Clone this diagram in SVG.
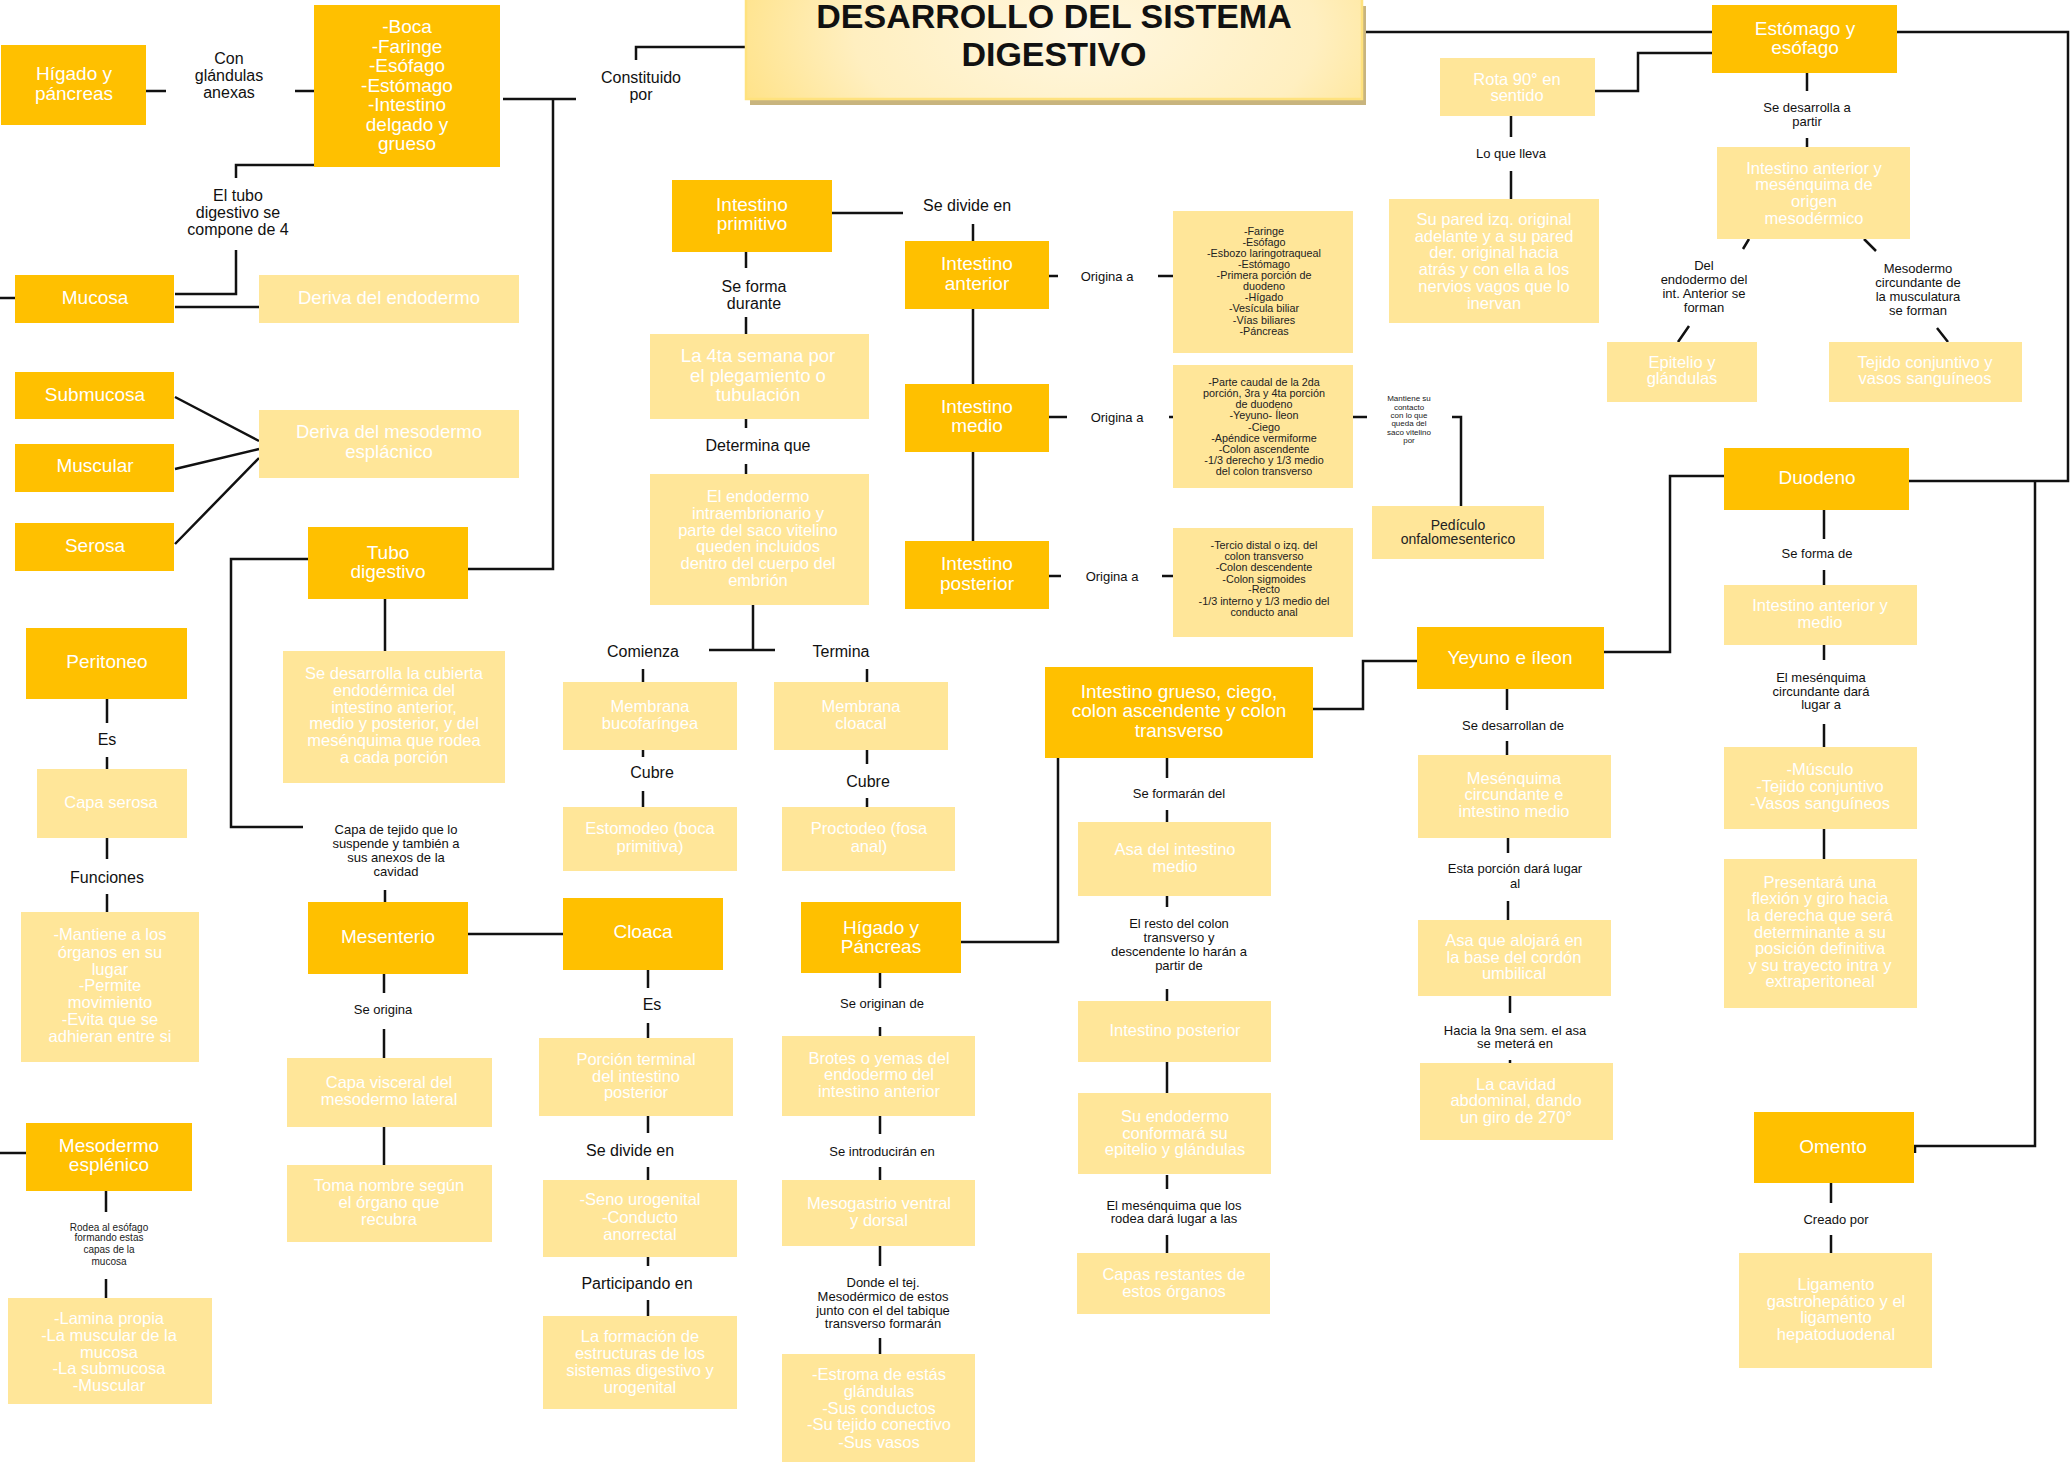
<svg xmlns="http://www.w3.org/2000/svg" width="2070" height="1470" viewBox="0 0 2070 1470">
<style>
text{font-family:"Liberation Sans",Arial,sans-serif;text-anchor:middle}
.d{fill:#FFC000}
.l{fill:#FFE699}
.tw{fill:#fff;font-size:19px}
.tl{fill:#fff;font-size:16.5px}
.tb{fill:#fff;font-size:18.5px}
.lb{fill:#111;font-size:16px}
.ls{fill:#111;font-size:13px}
.tx{fill:#222;font-size:10.8px}
.t8{fill:#222;font-size:8px}
.t10{fill:#222;font-size:10px}
.t14{fill:#222;font-size:14px}
.c path{fill:none;stroke:#111;stroke-width:2.5}
</style>
<defs>
<radialGradient id="gTitle" cx="0.55" cy="0.45" r="0.75" gradientTransform="translate(0.5 0.5) scale(1 3.2) translate(-0.5 -0.5)">
<stop offset="0" stop-color="#FFF7E0"/>
<stop offset="0.5" stop-color="#FFEFC0"/>
<stop offset="1" stop-color="#FFD95E"/>
</radialGradient>
</defs>
<rect width="2070" height="1470" fill="#fff"/>

<!-- connectors -->
<g id="connectors" class="c">
<path d="M146 91H166M295 91H314"/>
<path d="M503 99H576M553 99V569H468"/>
<path d="M636 60V47H745"/>
<path d="M314 165H236V178M236 250V294H175"/>
<path d="M0 298H15M175 307H259"/>
<path d="M175 397L259 441M175 469L259 449M175 544L259 458"/>
<path d="M308 559H231V827H303M385 890V902M385 599V651"/>
<path d="M107 699V723M107 757V769M107 838V859M107 894V912"/>
<path d="M468 934H563"/>
<path d="M384 974V993M384 1029V1058M384 1127V1165"/>
<path d="M648 970V988M648 1023V1038M648 1116V1133M648 1167V1180M648 1257V1266M648 1300V1316"/>
<path d="M0 1153H26M106 1191V1212M106 1279V1298"/>
<path d="M832 213H903M973 224V541"/>
<path d="M746 252V268M746 317V334M746 419V428M746 464V474"/>
<path d="M753 605V650M709 650H775"/>
<path d="M643 669V682M643 750V757M643 791V807"/>
<path d="M867 669V682M867 750V764M867 798V807"/>
<path d="M1049 276H1058M1158 276H1173M1049 417H1067M1169 417H1173M1049 576H1061M1162 576H1173"/>
<path d="M1353 417H1367M1452 417H1461V506"/>
<path d="M1313 709H1363V661H1417"/>
<path d="M1058 758V942H961"/>
<path d="M1167 758V778M1167 810V822M1167 896V907M1167 989V1001M1167 1062V1093M1167 1175V1189M1167 1235V1253"/>
<path d="M880 973V988M880 1027V1036M880 1116V1134M880 1167V1180M880 1246V1266M880 1338V1354"/>
<path d="M1363 32H1712M1712 53H1638V91H1595"/>
<path d="M1511 116V137M1511 171V199"/>
<path d="M1807 73V91M1807 138V147"/>
<path d="M1749 239L1743 249M1864 239L1876 251M1689 326L1678 342M1937 328L1948 342"/>
<path d="M1897 32H2068V481H1909M2035 481V1146H1914M1915 1146V1153"/>
<path d="M1724 476H1670V652H1604"/>
<path d="M1507 689V710M1507 741V755M1508 838V853M1508 901V920M1510 996V1013M1510 1060V1063"/>
<path d="M1824 510V539M1824 570V585M1824 645V660M1824 724V747M1824 829V859"/>
<path d="M1831 1183V1203M1831 1235V1253"/>
</g>

<!-- connector labels -->
<g id="edge-labels">
<text class="lb"><tspan x="229" y="63.6">Con</tspan><tspan x="229" y="80.6">glándulas</tspan><tspan x="229" y="97.6">anexas</tspan></text>
<text class="lb"><tspan x="641" y="82.6">Constituido</tspan><tspan x="641" y="99.6">por</tspan></text>
<text class="lb"><tspan x="238" y="200.6">El tubo</tspan><tspan x="238" y="217.6">digestivo se</tspan><tspan x="238" y="234.6">compone de 4</tspan></text>
<text class="lb" x="967" y="210.6">Se divide en</text>
<text class="lb"><tspan x="754" y="291.6">Se forma</tspan><tspan x="754" y="308.6">durante</tspan></text>
<text class="lb" x="758" y="450.6">Determina que</text>
<text class="lb" x="643" y="656.6">Comienza</text>
<text class="lb" x="841" y="656.6">Termina</text>
<text class="lb" x="652" y="777.6">Cubre</text>
<text class="lb" x="868" y="786.6">Cubre</text>
<text class="lb" x="107" y="744.6">Es</text>
<text class="lb" x="107" y="882.6">Funciones</text>
<text class="lb" x="652" y="1009.6">Es</text>
<text class="lb" x="630" y="1155.6">Se divide en</text>
<text class="lb" x="637" y="1288.6">Participando en</text>
<text class="ls" x="1107" y="280.6">Origina a</text>
<text class="ls" x="1117" y="421.6">Origina a</text>
<text class="ls" x="1112" y="580.6">Origina a</text>
<text class="t8"><tspan x="1409" y="400.8">Mantiene su</tspan><tspan x="1409" y="409.8">contacto</tspan><tspan x="1409" y="417.8">con lo que</tspan><tspan x="1409" y="425.8">queda del</tspan><tspan x="1409" y="434.8">saco vitelino</tspan><tspan x="1409" y="442.8">por</tspan></text>
<text class="ls"><tspan x="396" y="833.6">Capa de tejido que lo</tspan><tspan x="396" y="847.6">suspende y también a</tspan><tspan x="396" y="861.6">sus anexos de la</tspan><tspan x="396" y="875.6">cavidad</tspan></text>
<text class="ls" x="383" y="1013.6">Se origina</text>
<text class="t10"><tspan x="109" y="1230.5">Rodea al esófago</tspan><tspan x="109" y="1240.5">formando estas</tspan><tspan x="109" y="1252.5">capas de la</tspan><tspan x="109" y="1264.5">mucosa</tspan></text>
<text class="ls" x="882" y="1007.6">Se originan de</text>
<text class="ls" x="882" y="1155.6">Se introducirán en</text>
<text class="ls"><tspan x="883" y="1286.6">Donde el tej.</tspan><tspan x="883" y="1300.6">Mesodérmico de estos</tspan><tspan x="883" y="1314.6">junto con el del tabique</tspan><tspan x="883" y="1327.6">transverso formarán</tspan></text>
<text class="ls" x="1179" y="797.6">Se formarán del</text>
<text class="ls"><tspan x="1179" y="927.6">El resto del colon</tspan><tspan x="1179" y="941.6">transverso y</tspan><tspan x="1179" y="955.6">descendente lo harán a</tspan><tspan x="1179" y="969.6">partir de</tspan></text>
<text class="ls"><tspan x="1174" y="1209.6">El mesénquima que los</tspan><tspan x="1174" y="1222.6">rodea dará lugar a las</tspan></text>
<text class="ls" x="1511" y="157.6">Lo que lleva</text>
<text class="ls"><tspan x="1807" y="111.6">Se desarrolla a</tspan><tspan x="1807" y="125.6">partir</tspan></text>
<text class="ls"><tspan x="1704" y="269.6">Del</tspan><tspan x="1704" y="283.6">endodermo del</tspan><tspan x="1704" y="297.6">int. Anterior se</tspan><tspan x="1704" y="311.6">forman</tspan></text>
<text class="ls"><tspan x="1918" y="272.6">Mesodermo</tspan><tspan x="1918" y="286.6">circundante de</tspan><tspan x="1918" y="300.6">la musculatura</tspan><tspan x="1918" y="314.6">se forman</tspan></text>
<text class="ls" x="1817" y="557.6">Se forma de</text>
<text class="ls"><tspan x="1821" y="681.6">El mesénquima</tspan><tspan x="1821" y="695.6">circundante dará</tspan><tspan x="1821" y="708.6">lugar a</tspan></text>
<text class="ls" x="1513" y="729.6">Se desarrollan de</text>
<text class="ls"><tspan x="1515" y="872.6">Esta porción dará lugar</tspan><tspan x="1515" y="887.6">al</tspan></text>
<text class="ls"><tspan x="1515" y="1034.6">Hacia la 9na sem. el asa</tspan><tspan x="1515" y="1047.6">se meterá en</tspan></text>
<text class="ls" x="1836" y="1223.6">Creado por</text>
</g>

<!-- title -->
<g id="n-titulo">
<rect x="750" y="6" width="616" height="99" fill="#C8B47E"/>
<rect x="746" y="-2" width="616" height="101" fill="url(#gTitle)" stroke="#FFE27E" stroke-width="2.5"/>
<text x="1054" y="27.5" font-weight="bold" font-size="34" fill="#111">DESARROLLO DEL SISTEMA</text>
<text x="1054" y="66" font-weight="bold" font-size="34" fill="#111">DIGESTIVO</text>
</g>

<!-- left column -->
<g id="n-higado-pancreas"><rect class="d" x="1" y="45" width="145" height="80"/>
<text class="tw"><tspan x="74" y="79.7">Hígado y</tspan><tspan x="74" y="99.7">páncreas</tspan></text></g>
<g id="n-organos"><rect class="d" x="314" y="5" width="186" height="162"/>
<text class="tw"><tspan x="407" y="32.7">-Boca</tspan><tspan x="407" y="52.7">-Faringe</tspan><tspan x="407" y="71.7">-Esófago</tspan><tspan x="407" y="91.7">-Estómago</tspan><tspan x="407" y="110.7">-Intestino</tspan><tspan x="407" y="130.7">delgado y</tspan><tspan x="407" y="149.7">grueso</tspan></text></g>
<g id="n-mucosa"><rect class="d" x="15" y="275" width="159" height="48"/>
<text class="tw" x="95" y="303.7">Mucosa</text></g>
<g id="n-deriva-endodermo"><rect class="l" x="259" y="275" width="260" height="48"/>
<text class="tb" x="389" y="303.5">Deriva del endodermo</text></g>
<g id="n-submucosa"><rect class="d" x="15" y="372" width="159" height="47"/>
<text class="tw" x="95" y="400.7">Submucosa</text></g>
<g id="n-muscular"><rect class="d" x="15" y="444" width="159" height="48"/>
<text class="tw" x="95" y="471.7">Muscular</text></g>
<g id="n-serosa"><rect class="d" x="15" y="523" width="159" height="48"/>
<text class="tw" x="95" y="551.7">Serosa</text></g>
<g id="n-deriva-mesodermo"><rect class="l" x="259" y="410" width="260" height="68"/>
<text class="tb"><tspan x="389" y="437.5">Deriva del mesodermo</tspan><tspan x="389" y="457.5">esplácnico</tspan></text></g>
<g id="n-tubo"><rect class="d" x="308" y="527" width="160" height="72"/>
<text class="tw"><tspan x="388" y="558.7">Tubo</tspan><tspan x="388" y="577.7">digestivo</tspan></text></g>
<g id="n-cubierta"><rect class="l" x="283" y="651" width="222" height="132"/>
<text class="tl"><tspan x="394" y="678.8">Se desarrolla la cubierta</tspan><tspan x="394" y="695.8">endodérmica del</tspan><tspan x="394" y="712.8">intestino anterior,</tspan><tspan x="394" y="728.8">medio y posterior, y del</tspan><tspan x="394" y="745.8">mesénquima que rodea</tspan><tspan x="394" y="762.8">a cada porción</tspan></text></g>
<g id="n-peritoneo"><rect class="d" x="26" y="628" width="161" height="71"/>
<text class="tw" x="107" y="667.7">Peritoneo</text></g>
<g id="n-capa-serosa"><rect class="l" x="37" y="769" width="150" height="69"/>
<text class="tl" x="111" y="807.8">Capa serosa</text></g>
<g id="n-funciones"><rect class="l" x="21" y="912" width="178" height="150"/>
<text class="tl"><tspan x="110" y="939.8">-Mantiene a los</tspan><tspan x="110" y="957.8">órganos en su</tspan><tspan x="110" y="974.8">lugar</tspan><tspan x="110" y="990.8">-Permite</tspan><tspan x="110" y="1007.8">movimiento</tspan><tspan x="110" y="1024.8">-Evita que se</tspan><tspan x="110" y="1041.8">adhieran entre si</tspan></text></g>
<g id="n-mesenterio"><rect class="d" x="308" y="902" width="160" height="72"/>
<text class="tw" x="388" y="942.7">Mesenterio</text></g>
<g id="n-capa-visceral"><rect class="l" x="287" y="1058" width="205" height="69"/>
<text class="tl"><tspan x="389" y="1087.8">Capa visceral del</tspan><tspan x="389" y="1104.8">mesodermo lateral</tspan></text></g>
<g id="n-toma-nombre"><rect class="l" x="287" y="1165" width="205" height="77"/>
<text class="tl"><tspan x="389" y="1190.8">Toma nombre según</tspan><tspan x="389" y="1207.8">el órgano que</tspan><tspan x="389" y="1224.8">recubra</tspan></text></g>
<g id="n-mesodermo-esplenico"><rect class="d" x="26" y="1123" width="166" height="68"/>
<text class="tw"><tspan x="109" y="1151.7">Mesodermo</tspan><tspan x="109" y="1170.7">esplénico</tspan></text></g>
<g id="n-lamina"><rect class="l" x="8" y="1298" width="204" height="106"/>
<text class="tl"><tspan x="109" y="1323.8">-Lamina propia</tspan><tspan x="109" y="1340.8">-La muscular de la</tspan><tspan x="109" y="1357.8">mucosa</tspan><tspan x="109" y="1373.8">-La submucosa</tspan><tspan x="109" y="1390.8">-Muscular</tspan></text></g>

<!-- centre columns -->
<g id="n-primitivo"><rect class="d" x="672" y="180" width="160" height="72"/>
<text class="tw"><tspan x="752" y="210.7">Intestino</tspan><tspan x="752" y="229.7">primitivo</tspan></text></g>
<g id="n-cuarta-semana"><rect class="l" x="650" y="334" width="219" height="85"/>
<text class="tb"><tspan x="758" y="361.5">La 4ta semana por</tspan><tspan x="758" y="381.5">el plegamiento o</tspan><tspan x="758" y="400.5">tubulación</tspan></text></g>
<g id="n-endodermo-intra"><rect class="l" x="650" y="474" width="219" height="131"/>
<text class="tl"><tspan x="758" y="501.8">El endodermo</tspan><tspan x="758" y="518.8">intraembrionario y</tspan><tspan x="758" y="535.8">parte del saco vitelino</tspan><tspan x="758" y="551.8">queden incluidos</tspan><tspan x="758" y="568.8">dentro del cuerpo del</tspan><tspan x="758" y="585.8">embrión</tspan></text></g>
<g id="n-bucofaringea"><rect class="l" x="563" y="682" width="174" height="68"/>
<text class="tl"><tspan x="650" y="711.8">Membrana</tspan><tspan x="650" y="728.8">bucofaríngea</tspan></text></g>
<g id="n-estomodeo"><rect class="l" x="563" y="807" width="174" height="64"/>
<text class="tl"><tspan x="650" y="833.8">Estomodeo (boca</tspan><tspan x="650" y="851.8">primitiva)</tspan></text></g>
<g id="n-cloacal"><rect class="l" x="774" y="682" width="174" height="68"/>
<text class="tl"><tspan x="861" y="711.8">Membrana</tspan><tspan x="861" y="728.8">cloacal</tspan></text></g>
<g id="n-proctodeo"><rect class="l" x="782" y="807" width="173" height="64"/>
<text class="tl"><tspan x="869" y="833.8">Proctodeo (fosa</tspan><tspan x="869" y="851.8">anal)</tspan></text></g>
<g id="n-cloaca"><rect class="d" x="563" y="898" width="160" height="72"/>
<text class="tw" x="643" y="937.7">Cloaca</text></g>
<g id="n-porcion-terminal"><rect class="l" x="539" y="1038" width="194" height="78"/>
<text class="tl"><tspan x="636" y="1064.8">Porción terminal</tspan><tspan x="636" y="1081.8">del intestino</tspan><tspan x="636" y="1097.8">posterior</tspan></text></g>
<g id="n-seno"><rect class="l" x="543" y="1180" width="194" height="77"/>
<text class="tl"><tspan x="640" y="1204.8">-Seno urogenital</tspan><tspan x="640" y="1222.8">-Conducto</tspan><tspan x="640" y="1239.8">anorrectal</tspan></text></g>
<g id="n-formacion"><rect class="l" x="543" y="1316" width="194" height="93"/>
<text class="tl"><tspan x="640" y="1341.8">La formación de</tspan><tspan x="640" y="1358.8">estructuras de los</tspan><tspan x="640" y="1375.8">sistemas digestivo y</tspan><tspan x="640" y="1392.8">urogenital</tspan></text></g>
<g id="n-higado-pancreas-2"><rect class="d" x="801" y="902" width="160" height="71"/>
<text class="tw"><tspan x="881" y="933.7">Hígado y</tspan><tspan x="881" y="952.7">Páncreas</tspan></text></g>
<g id="n-brotes"><rect class="l" x="782" y="1036" width="193" height="80"/>
<text class="tl"><tspan x="879" y="1063.8">Brotes o yemas del</tspan><tspan x="879" y="1079.8">endodermo del</tspan><tspan x="879" y="1096.8">intestino anterior</tspan></text></g>
<g id="n-mesogastrio"><rect class="l" x="782" y="1180" width="193" height="66"/>
<text class="tl"><tspan x="879" y="1208.8">Mesogastrio ventral</tspan><tspan x="879" y="1225.8">y dorsal</tspan></text></g>
<g id="n-estroma"><rect class="l" x="782" y="1354" width="193" height="108"/>
<text class="tl"><tspan x="879" y="1379.8">-Estroma de estás</tspan><tspan x="879" y="1396.8">glándulas</tspan><tspan x="879" y="1413.8">-Sus conductos</tspan><tspan x="879" y="1429.8">-Su tejido conectivo</tspan><tspan x="879" y="1447.8">-Sus vasos</tspan></text></g>
<g id="n-anterior"><rect class="d" x="905" y="241" width="144" height="68"/>
<text class="tw"><tspan x="977" y="269.7">Intestino</tspan><tspan x="977" y="289.7">anterior</tspan></text></g>
<g id="n-medio"><rect class="d" x="905" y="384" width="144" height="68"/>
<text class="tw"><tspan x="977" y="412.7">Intestino</tspan><tspan x="977" y="431.7">medio</tspan></text></g>
<g id="n-posterior"><rect class="d" x="905" y="541" width="144" height="68"/>
<text class="tw"><tspan x="977" y="569.7">Intestino</tspan><tspan x="977" y="589.7">posterior</tspan></text></g>
<g id="n-lista-anterior"><rect class="l" x="1173" y="211" width="180" height="142"/>
<text class="tx"><tspan x="1264" y="234.8">-Faringe</tspan><tspan x="1264" y="245.8">-Esófago</tspan><tspan x="1264" y="256.8">-Esbozo laringotraqueal</tspan><tspan x="1264" y="267.8">-Estómago</tspan><tspan x="1264" y="278.8">-Primera porción de</tspan><tspan x="1264" y="289.8">duodeno</tspan><tspan x="1264" y="300.8">-Hígado</tspan><tspan x="1264" y="311.8">-Vesícula biliar</tspan><tspan x="1264" y="323.8">-Vías biliares</tspan><tspan x="1264" y="334.8">-Páncreas</tspan></text></g>
<g id="n-lista-medio"><rect class="l" x="1173" y="365" width="180" height="123"/>
<text class="tx"><tspan x="1264" y="385.8">-Parte caudal de la 2da</tspan><tspan x="1264" y="396.8">porción, 3ra y 4ta porción</tspan><tspan x="1264" y="407.8">de duodeno</tspan><tspan x="1264" y="418.8">-Yeyuno- Íleon</tspan><tspan x="1264" y="430.8">-Ciego</tspan><tspan x="1264" y="441.8">-Apéndice vermiforme</tspan><tspan x="1264" y="452.8">-Colon ascendente</tspan><tspan x="1264" y="463.8">-1/3 derecho y 1/3 medio</tspan><tspan x="1264" y="474.8">del colon transverso</tspan></text></g>
<g id="n-lista-posterior"><rect class="l" x="1173" y="528" width="180" height="109"/>
<text class="tx"><tspan x="1264" y="548.8">-Tercio distal o izq. del</tspan><tspan x="1264" y="559.8">colon transverso</tspan><tspan x="1264" y="570.8">-Colon descendente</tspan><tspan x="1264" y="582.8">-Colon sigmoides</tspan><tspan x="1264" y="592.8">-Recto</tspan><tspan x="1264" y="604.8">-1/3 interno y 1/3 medio del</tspan><tspan x="1264" y="615.8">conducto anal</tspan></text></g>
<g id="n-pediculo"><rect class="l" x="1372" y="506" width="172" height="53"/>
<text class="t14"><tspan x="1458" y="529.9">Pedículo</tspan><tspan x="1458" y="543.9">onfalomesenterico</tspan></text></g>
<g id="n-grueso"><rect class="d" x="1045" y="667" width="268" height="91"/>
<text class="tw"><tspan x="1179" y="697.7">Intestino grueso, ciego,</tspan><tspan x="1179" y="716.7">colon ascendente  y colon</tspan><tspan x="1179" y="736.7">transverso</tspan></text></g>
<g id="n-asa-medio"><rect class="l" x="1078" y="822" width="193" height="74"/>
<text class="tl"><tspan x="1175" y="854.8">Asa del intestino</tspan><tspan x="1175" y="871.8">medio</tspan></text></g>
<g id="n-int-posterior"><rect class="l" x="1078" y="1001" width="193" height="61"/>
<text class="tl" x="1175" y="1035.8">Intestino posterior</text></g>
<g id="n-su-endodermo"><rect class="l" x="1078" y="1093" width="193" height="81"/>
<text class="tl"><tspan x="1175" y="1121.8">Su endodermo</tspan><tspan x="1175" y="1138.8">conformará su</tspan><tspan x="1175" y="1154.8">epitelio y glándulas</tspan></text></g>
<g id="n-capas-restantes"><rect class="l" x="1077" y="1253" width="193" height="61"/>
<text class="tl"><tspan x="1174" y="1279.8">Capas restantes de</tspan><tspan x="1174" y="1296.8">estos órganos</tspan></text></g>

<!-- right columns -->
<g id="n-rota"><rect class="l" x="1440" y="58" width="155" height="58"/>
<text class="tl"><tspan x="1517" y="84.8">Rota 90° en</tspan><tspan x="1517" y="100.8">sentido</tspan></text></g>
<g id="n-su-pared"><rect class="l" x="1389" y="199" width="210" height="124"/>
<text class="tl"><tspan x="1494" y="224.8">Su pared izq. original</tspan><tspan x="1494" y="241.8">adelante y a su pared</tspan><tspan x="1494" y="257.8">der. original hacia</tspan><tspan x="1494" y="274.8">atrás y con ella a los</tspan><tspan x="1494" y="291.8">nervios vagos que lo</tspan><tspan x="1494" y="308.8">inervan</tspan></text></g>
<g id="n-estomago"><rect class="d" x="1712" y="5" width="185" height="68"/>
<text class="tw"><tspan x="1805" y="34.7">Estómago y</tspan><tspan x="1805" y="53.7">esófago</tspan></text></g>
<g id="n-ant-mesenquima"><rect class="l" x="1717" y="147" width="193" height="92"/>
<text class="tl"><tspan x="1814" y="173.8">Intestino anterior y</tspan><tspan x="1814" y="189.8">mesénquima de</tspan><tspan x="1814" y="206.8">origen</tspan><tspan x="1814" y="223.8">mesodérmico</tspan></text></g>
<g id="n-epitelio"><rect class="l" x="1607" y="342" width="150" height="60"/>
<text class="tl"><tspan x="1682" y="367.8">Epitelio y</tspan><tspan x="1682" y="383.8">glándulas</tspan></text></g>
<g id="n-tejido"><rect class="l" x="1829" y="342" width="193" height="60"/>
<text class="tl"><tspan x="1925" y="367.8">Tejido conjuntivo y</tspan><tspan x="1925" y="383.8">vasos sanguíneos</tspan></text></g>
<g id="n-duodeno"><rect class="d" x="1724" y="448" width="185" height="62"/>
<text class="tw" x="1817" y="483.7">Duodeno</text></g>
<g id="n-ant-medio"><rect class="l" x="1724" y="585" width="193" height="60"/>
<text class="tl"><tspan x="1820" y="610.8">Intestino anterior y</tspan><tspan x="1820" y="627.8">medio</tspan></text></g>
<g id="n-musculo"><rect class="l" x="1724" y="747" width="193" height="82"/>
<text class="tl"><tspan x="1820" y="774.8">-Músculo</tspan><tspan x="1820" y="791.8">-Tejido conjuntivo</tspan><tspan x="1820" y="808.8">-Vasos sanguíneos</tspan></text></g>
<g id="n-presentara"><rect class="l" x="1724" y="859" width="193" height="149"/>
<text class="tl"><tspan x="1820" y="887.8">Presentará una</tspan><tspan x="1820" y="904.4">flexión y giro hacia</tspan><tspan x="1820" y="921">la derecha que será</tspan><tspan x="1820" y="937.6">determinante a su</tspan><tspan x="1820" y="954.2">posición definitiva</tspan><tspan x="1820" y="970.8">y su trayecto intra y</tspan><tspan x="1820" y="987.4">extraperitoneal</tspan></text></g>
<g id="n-yeyuno"><rect class="d" x="1417" y="627" width="187" height="62"/>
<text class="tw" x="1510" y="663.7">Yeyuno e íleon</text></g>
<g id="n-mesenquima-circ"><rect class="l" x="1418" y="755" width="193" height="83"/>
<text class="tl"><tspan x="1514" y="783.8">Mesénquima</tspan><tspan x="1514" y="799.8">circundante e</tspan><tspan x="1514" y="816.8">intestino medio</tspan></text></g>
<g id="n-asa-alojara"><rect class="l" x="1418" y="920" width="193" height="76"/>
<text class="tl"><tspan x="1514" y="945.8">Asa que alojará en</tspan><tspan x="1514" y="962.8">la base del cordón</tspan><tspan x="1514" y="978.8">umbilical</tspan></text></g>
<g id="n-cavidad"><rect class="l" x="1420" y="1063" width="193" height="77"/>
<text class="tl"><tspan x="1516" y="1089.8">La cavidad</tspan><tspan x="1516" y="1105.8">abdominal, dando</tspan><tspan x="1516" y="1122.8">un giro de 270°</tspan></text></g>
<g id="n-omento"><rect class="d" x="1754" y="1112" width="160" height="71"/>
<text class="tw" x="1833" y="1152.7">Omento</text></g>
<g id="n-ligamento"><rect class="l" x="1739" y="1253" width="193" height="115"/>
<text class="tl"><tspan x="1836" y="1289.8">Ligamento</tspan><tspan x="1836" y="1306.8">gastrohepático y el</tspan><tspan x="1836" y="1322.8">ligamento</tspan><tspan x="1836" y="1339.8">hepatoduodenal</tspan></text></g>
</svg>
